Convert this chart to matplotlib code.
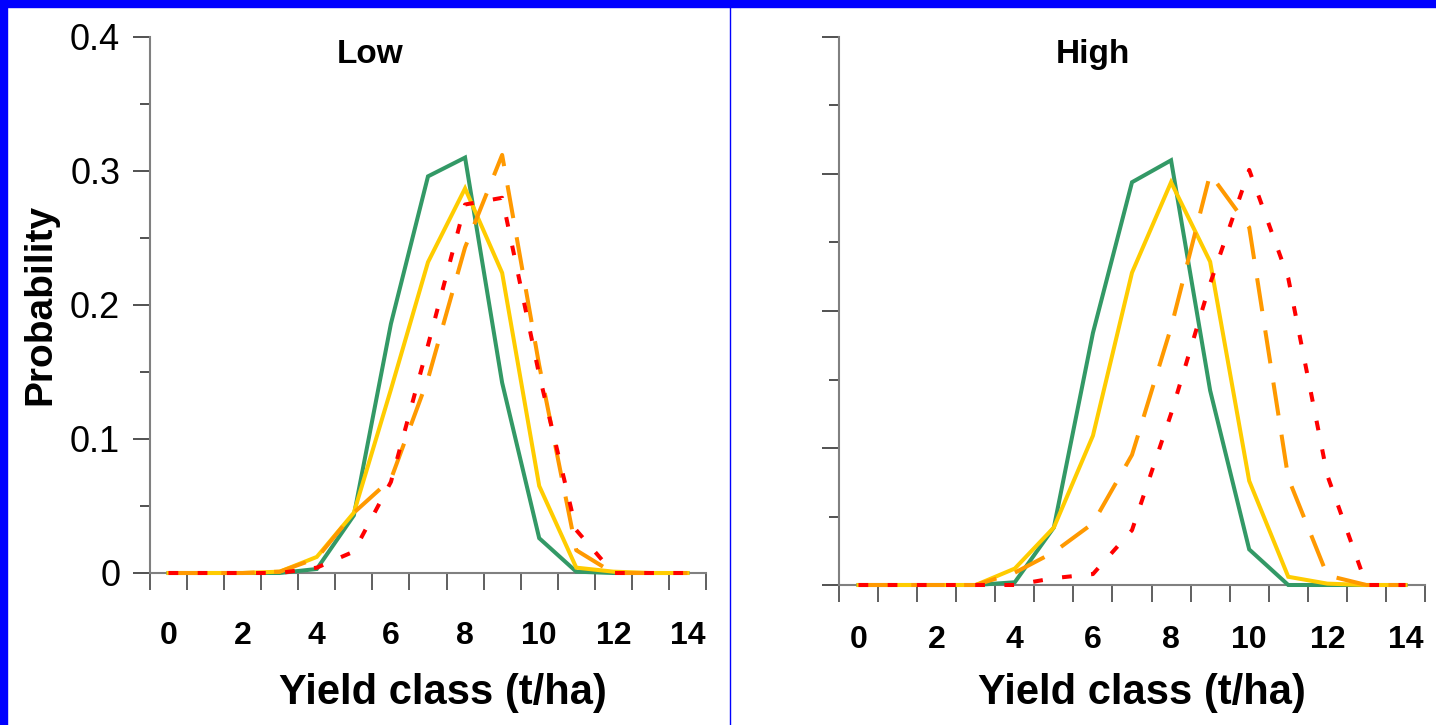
import numpy as np
import matplotlib.pyplot as plt
from matplotlib.lines import Line2D
from matplotlib.patches import Rectangle
from matplotlib.ticker import MultipleLocator, FuncFormatter

plt.rcParams['font.family'] = ['Liberation Sans', 'DejaVu Sans']
plt.rcParams['lines.scale_dashes'] = False

# yield classes (t/ha) and the labelled ones
classes = np.arange(15)
label_pos = np.arange(0, 15, 2)
label_txt = [str(v) for v in label_pos]

# probabilities
low_green = [0, 0, 0, 0, 0.003, 0.043, 0.186, 0.296, 0.310, 0.142, 0.026, 0.001, 0, 0, 0]
low_yellow = [0, 0, 0, 0.001, 0.012, 0.045, 0.137, 0.232, 0.287, 0.224, 0.065, 0.004, 0.001, 0, 0]
low_orange = [0, 0, 0, 0.001, 0.011, 0.045, 0.070, 0.145, 0.243, 0.312, 0.155, 0.017, 0, 0, 0]
low_red = [0, 0, 0, 0, 0.004, 0.016, 0.068, 0.170, 0.275, 0.280, 0.148, 0.032, 0, 0, 0]

high_green = [0, 0, 0, 0, 0.002, 0.042, 0.184, 0.294, 0.310, 0.142, 0.026, 0, 0, 0, 0]
high_yellow = [0, 0, 0, 0, 0.012, 0.042, 0.109, 0.228, 0.294, 0.236, 0.076, 0.006, 0.001, 0, 0]
high_orange = [0, 0, 0, 0, 0.009, 0.024, 0.045, 0.095, 0.188, 0.300, 0.261, 0.078, 0.007, 0, 0]
high_red = [0, 0, 0, 0, 0, 0.005, 0.008, 0.040, 0.125, 0.220, 0.303, 0.224, 0.080, 0, 0]

W, H = 1436, 725
fig = plt.figure(figsize=(W / 100, H / 100), dpi=100)

# slide frame
fig.add_artist(Rectangle((0, 1 - 7 / H), 1, 7 / H, transform=fig.transFigure, color='#0000ff', zorder=10))
fig.add_artist(Rectangle((0, 0), 7 / W, 1, transform=fig.transFigure, color='#0000ff', zorder=10))
fig.add_artist(Line2D([729.5 / W] * 2, [0, 1], transform=fig.transFigure, color='#0000ff', lw=1.0))

ax1 = fig.add_axes([150 / W, (H - 573) / H, 556 / W, 536 / H])
ax2 = fig.add_axes([839 / W, (H - 585) / H, 586 / W, 548 / H])


def draw(ax, green, yellow, orange, red, xpad):
    kw = dict(lw=2.9, clip_on=False, zorder=5, solid_joinstyle='miter')
    ax.plot(classes, green, color='#339966', **kw)
    ax.plot(classes, yellow, color='#ffcc00', **kw)
    ax.plot(classes, orange, color='#ff9900', dashes=(24, 14), dash_capstyle='butt', **kw)
    ax.plot(classes, red, color='#ff0000', dashes=(7, 14), dash_capstyle='butt', **kw)

    ax.set_xlim(-0.5, 14.5)
    ax.set_ylim(0, 0.4)
    for s in ['top', 'right']:
        ax.spines[s].set_visible(False)
    for s in ['left', 'bottom']:
        ax.spines[s].set_color('#808080')
        ax.spines[s].set_linewidth(1.5)

    ax.set_xticks(np.arange(-0.5, 15, 1))
    ax.set_xticklabels([])
    ax.set_xticks(label_pos, minor=True)
    ax.set_xticklabels(label_txt, minor=True, fontsize=23, fontweight='bold')
    ax.tick_params(axis='x', which='major', length=12, width=1.2, color='#444444')
    ax.tick_params(axis='x', which='minor', length=0, pad=xpad)

    ax.yaxis.set_major_locator(MultipleLocator(0.1))
    ax.yaxis.set_minor_locator(MultipleLocator(0.05))
    ax.yaxis.set_major_formatter(FuncFormatter(lambda v, _: '0' if v == 0 else f'{v:.1f}'))
    ax.tick_params(axis='y', which='major', length=12, width=1.2, color='#333333', pad=9.5, labelsize=26)
    ax.tick_params(axis='y', which='minor', length=7, width=1.2, color='#333333')


draw(ax1, low_green, low_yellow, low_orange, low_red, 34.3)
draw(ax2, high_green, high_yellow, high_orange, high_red, 28.5)
ax2.set_yticklabels([])

ax1.text(0.396, 0.951, 'Low', transform=ax1.transAxes, ha='center', va='baseline', fontsize=24, fontweight='bold')
ax2.text(0.433, 0.9526, 'High', transform=ax2.transAxes, ha='center', va='baseline', fontsize=24, fontweight='bold')

ax1.set_xlabel('Yield class (t/ha)', fontsize=30, fontweight='bold')
ax1.xaxis.set_label_coords(0.527, -0.187)
ax2.set_xlabel('Yield class (t/ha)', fontsize=30, fontweight='bold')
ax2.xaxis.set_label_coords(0.517, -0.161)

fig.text(40 / W, 1 - 304 / H, 'Probability', rotation=90, ha='center', va='center', fontsize=28, fontweight='bold')

fig.savefig('out.png', dpi=100)
